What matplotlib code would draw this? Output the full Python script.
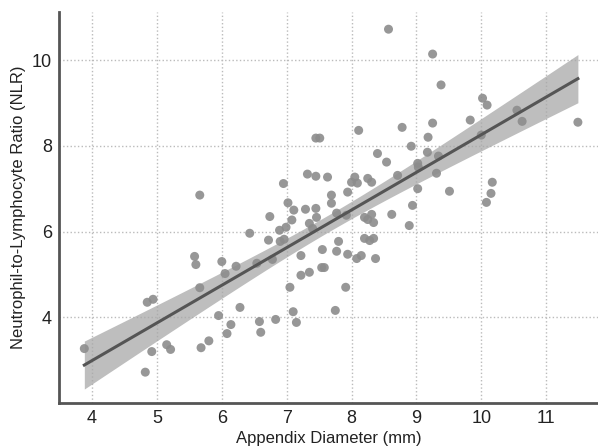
import numpy as np
import matplotlib
matplotlib.use("Agg")
import matplotlib.pyplot as plt

plt.rcParams['font.family'] = ['Liberation Sans Narrow', 'Liberation Sans', 'DejaVu Sans']

# appendix diameter (mm), NLR
diameter = [3.88, 4.82, 4.85, 4.94, 4.92, 5.15, 5.21, 5.58, 5.60, 5.66,
            5.68, 5.80, 5.66, 5.95, 6.00, 6.05, 6.08, 6.14, 6.22, 6.28,
            6.43, 6.54, 6.58, 6.60, 6.72, 6.78, 6.83, 6.89, 6.99, 6.90,
            6.96, 7.05, 7.10, 7.15, 6.95, 7.02, 7.11, 7.08, 6.74, 7.32,
            7.45, 7.29, 7.45, 7.35, 7.22, 7.22, 7.35, 8.54, 9.02, 7.63,
            8.05, 8.00, 8.09, 8.25, 8.31, 8.71, 7.94, 9.02, 7.69, 7.69,
            7.77, 7.92, 7.46, 8.20, 8.31, 8.25, 8.34, 8.62, 8.94, 8.89,
            7.40, 7.80, 8.20, 8.28, 8.34, 7.55, 7.77, 7.94, 8.08, 8.15,
            8.37, 7.54, 7.58, 7.91, 7.75, 9.25, 9.38, 10.02, 10.09, 9.83,
            10.55, 10.63, 11.49, 10.00, 9.25, 8.78, 9.18, 8.92, 9.17, 9.34,
            9.03, 9.31, 9.51, 10.17, 10.15, 10.08, 8.57, 8.11, 7.45, 7.51,
            8.40]
nlr = [3.27, 2.72, 4.35, 4.42, 3.20, 3.36, 3.25, 5.42, 5.23, 4.69,
       3.29, 3.45, 6.85, 4.04, 5.30, 5.02, 3.62, 3.83, 5.19, 4.23,
       5.96, 5.26, 3.90, 3.65, 5.80, 5.35, 3.95, 6.03, 6.10, 5.77,
       5.82, 4.70, 4.13, 3.88, 7.12, 6.67, 6.50, 6.27, 6.35, 7.34,
       7.29, 6.52, 6.54, 6.19, 5.44, 4.98, 5.05, 7.62, 7.59, 7.27,
       7.27, 7.15, 7.13, 7.24, 7.15, 7.31, 6.92, 7.00, 6.85, 6.66,
       6.43, 6.38, 6.33, 6.33, 6.40, 6.28, 6.21, 6.40, 6.61, 6.14,
       6.07, 5.77, 5.84, 5.79, 5.84, 5.58, 5.54, 5.47, 5.37, 5.44,
       5.37, 5.16, 5.16, 4.70, 4.16, 10.14, 9.42, 9.11, 8.95, 8.60,
       8.83, 8.57, 8.55, 8.25, 8.53, 8.43, 8.20, 7.99, 7.85, 7.76,
       7.50, 7.36, 6.94, 7.15, 6.89, 6.68, 10.72, 8.36, 8.18, 8.18,
       7.82]

x = np.array(diameter)
y = np.array(nlr)

# least squares fit with 95% confidence band
n = len(x)
slope, intercept = np.polyfit(x, y, 1)
resid = y - (slope * x + intercept)
s = np.sqrt(np.sum(resid ** 2) / (n - 2))
sxx = np.sum((x - x.mean()) ** 2)
xs = np.linspace(x.min(), x.max(), 200)
ys = slope * xs + intercept
ci = 1.98 * s * np.sqrt(1.0 / n + (xs - x.mean()) ** 2 / sxx)

fig = plt.figure(figsize=(5.98, 4.48), dpi=100)
ax = fig.add_axes([0.0987, 0.1004, 0.9013, 0.8727])

ax.scatter(x, y, s=42, color='#8c8c8c', edgecolors='none', alpha=0.9, zorder=3)
ax.fill_between(xs, ys - ci, ys + ci, color='#a8a8a8', alpha=0.75, linewidth=0, zorder=2)
ax.plot(xs, ys, color='#555555', linewidth=2.2, zorder=4)

ax.set_xlim(3.49, 11.8)
ax.set_ylim(2.0, 11.12)
ax.set_xticks(np.arange(4, 12, 1))
ax.set_yticks([4, 6, 8, 10])
ax.grid(True, color='#bbbbbb', linestyle=':', linewidth=1.0, zorder=0)
ax.set_axisbelow(True)

for side in ['top', 'right']:
    ax.spines[side].set_visible(False)
for side in ['left', 'bottom']:
    ax.spines[side].set_color('#555555')
    ax.spines[side].set_linewidth(2)

ax.tick_params(length=0, labelsize=13, colors='#222222', pad=5)
ax.set_xlabel('Appendix Diameter (mm)', fontsize=12, color='#222222', labelpad=3)
ax.set_ylabel('Neutrophil-to-Lymphocyte Ratio (NLR)', fontsize=12, color='#222222', labelpad=4)

fig.savefig('out.png', dpi=100)
